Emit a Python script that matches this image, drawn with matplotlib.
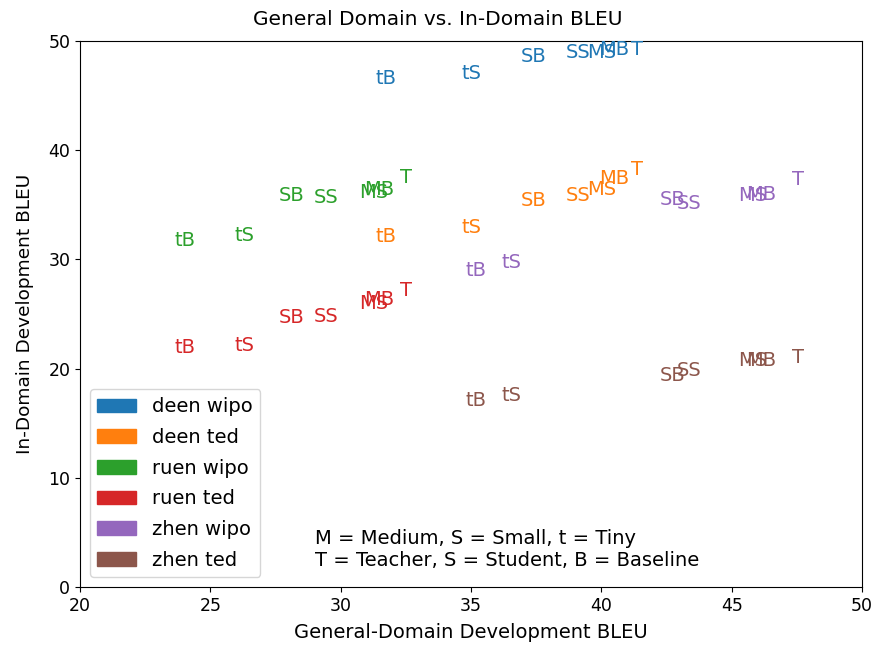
import matplotlib
matplotlib.use('Agg')
import matplotlib.pyplot as plt
import matplotlib.patches as mpatches

# model labels, same order in every array below
models = ['T', 'MB', 'MS', 'SB', 'SS', 'tB', 'tS']

# general-domain dev BLEU per language pair
general_deen = [41.15, 39.9, 39.47, 36.92, 38.64, 31.34, 34.65]
general_ruen = [32.27, 30.89, 30.71, 27.61, 28.98, 23.61, 25.91]
general_zhen = [47.32, 45.55, 45.23, 42.25, 42.91, 34.79, 36.17]

# in-domain dev BLEU
deen_wipo = [48.69, 48.69, 48.44, 48.1, 48.44, 46.03, 46.52]
deen_ted = [37.73, 36.9, 35.9, 34.89, 35.38, 31.6, 32.45]
ruen_wipo = [37.02, 35.93, 35.6, 35.32, 35.19, 31.23, 31.71]
ruen_ted = [26.65, 25.82, 25.46, 24.2, 24.3, 21.4, 21.64]
zhen_wipo = [36.81, 35.44, 35.35, 34.98, 34.62, 28.48, 29.18]
zhen_ted = [20.49, 20.24, 20.24, 18.9, 19.32, 16.58, 17.03]

series = [
    ('deen wipo', general_deen, deen_wipo),
    ('deen ted', general_deen, deen_ted),
    ('ruen wipo', general_ruen, ruen_wipo),
    ('ruen ted', general_ruen, ruen_ted),
    ('zhen wipo', general_zhen, zhen_wipo),
    ('zhen ted', general_zhen, zhen_ted),
]
colors = ['tab:blue', 'tab:orange', 'tab:green', 'tab:red', 'tab:purple', 'tab:brown']

plt.rcParams['font.size'] = 14

fig = plt.figure(figsize=(8.75, 6.48), dpi=100)
ax = fig.add_axes([0.0914, 0.0941, 0.8937, 0.8426])

handles = []
for (name, xs, ys), c in zip(series, colors):
    for m, x, y in zip(models, xs, ys):
        ax.text(x, y, m, color=c)
    handles.append(mpatches.Patch(color=c, label=name))

ax.set_xlim(20, 50)
ax.set_ylim(0, 50)
ax.tick_params(labelsize=12.5)
fig.suptitle('General Domain vs. In-Domain BLEU', fontsize=14.5, y=0.985)
ax.set_xlabel('General-Domain Development BLEU', labelpad=6)
ax.set_ylabel('In-Domain Development BLEU', fontsize=13.3, labelpad=10)
ax.legend(handles=handles, loc='lower left', labelspacing=0.6)
ax.text(29.0, 1.6, 'M = Medium, S = Small, t = Tiny\nT = Teacher, S = Student, B = Baseline',
        va='bottom')

plt.savefig('out.png')
